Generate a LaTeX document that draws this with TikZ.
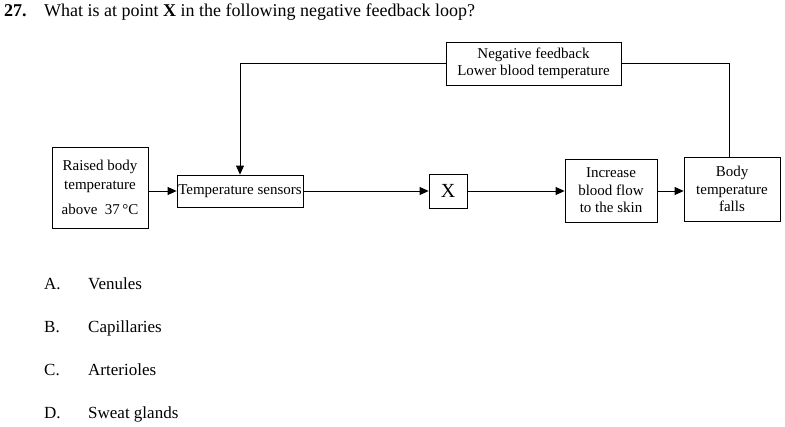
\documentclass[tikz,border=0pt]{standalone}
\usepackage{fontspec}
\setmainfont{Liberation Serif}
\usetikzlibrary{arrows.meta}
\tikzset{
  box/.style={draw, line width=0.8pt, inner sep=0pt, align=center, font=\fontsize{15}{17.5}\selectfont},
  conn/.style={line width=0.8pt, -{Triangle[length=9pt,width=8pt]}},
  plain/.style={line width=0.8pt},
  qtext/.style={anchor=base west, inner sep=0pt, font=\fontsize{18}{22}\selectfont},
  atext/.style={anchor=base west, inner sep=0pt, font=\fontsize{17}{21}\selectfont},
}
\begin{document}
\begin{tikzpicture}[x=1pt,y=-1pt]
\useasboundingbox (0,0) rectangle (785,426);
\node[qtext] (num) at (4,16) {\textbf{27.}};
\node[qtext] (title) at (44,16) {What is at point \textbf{X} in the following negative feedback loop?};

\node[box, minimum width=96pt, minimum height=81pt] (raised) at (100,187.5) {Raised body\\[1.5pt]temperature\\[7pt]above~~37\,°C};
\node[box, minimum width=126pt, minimum height=32pt] (sensors) at (240,191) {Temperature sensors};
\node[box, minimum width=38pt, minimum height=34pt, font=\fontsize{20}{22}\selectfont] (x) at (448,191) {X};
\node[box, minimum width=92pt, minimum height=63pt] (increase) at (611,190.5) {Increase\\blood flow\\to the skin};
\node[box, minimum width=96pt, minimum height=64pt] (body) at (732,189) {Body\\temperature\\falls};
\node[box, minimum width=175pt, minimum height=43pt] (neg) at (533.5,63.5) {Negative feedback\\Lower blood temperature};

\draw[conn] (raised.east |- sensors) -- (sensors.west);
\draw[conn] (sensors.east) -- (x.west);
\draw[conn] (x.east) -- (increase.west |- x);
\draw[conn] (increase.east |- x) -- (body.west |- x);
\draw[plain] ([xshift=-3pt]body.north) |- (neg.east);
\draw[conn] (neg.west) -| (sensors.north);

\node[atext] (la) at (44,289) {A.};
\node[atext] (ta) at (88,289) {Venules};
\node[atext] (lb) at (44,332) {B.};
\node[atext] (tb) at (88,332) {Capillaries};
\node[atext] (lc) at (44,375) {C.};
\node[atext] (tc) at (88,375) {Arterioles};
\node[atext] (ld) at (44,418) {D.};
\node[atext] (td) at (88,418) {Sweat glands};
\end{tikzpicture}
\end{document}
